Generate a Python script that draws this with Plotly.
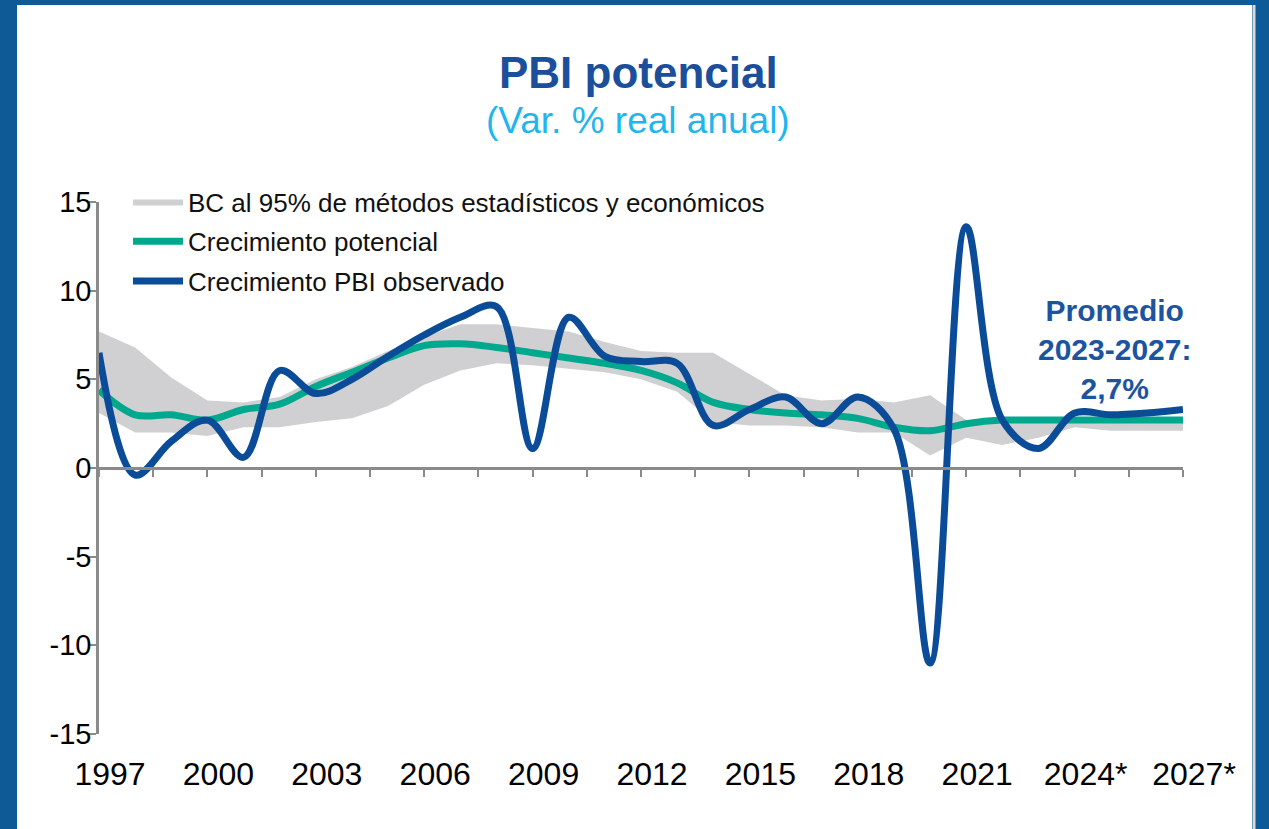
import plotly.graph_objects as go

# years on the x axis
years = [1997, 1998, 1999, 2000, 2001, 2002, 2003, 2004, 2005, 2006,
         2007, 2008, 2009, 2010, 2011, 2012, 2013, 2014, 2015, 2016,
         2017, 2018, 2019, 2020, 2021, 2022, 2023, 2024, 2025, 2026, 2027]

# crecimiento PBI observado (var. % real)
pbi_observado = [6.5, -0.4, 1.5, 2.7, 0.6, 5.5, 4.2, 5.0, 6.3, 7.5,
                 8.5, 9.1, 1.1, 8.5, 6.3, 6.0, 5.9, 2.4, 3.3, 4.0,
                 2.5, 4.0, 2.2, -11.0, 13.6, 2.7, 1.1, 3.1, 3.0, 3.1, 3.3]

# crecimiento potencial
potencial = [4.4, 3.0, 3.0, 2.7, 3.3, 3.6, 4.6, 5.4, 6.2, 6.9,
             7.0, 6.8, 6.5, 6.2, 5.9, 5.5, 4.8, 3.7, 3.3, 3.1,
             3.0, 2.8, 2.3, 2.1, 2.5, 2.7, 2.7, 2.7, 2.7, 2.7, 2.7]

# banda de confianza al 95%
banda_sup = [7.7, 6.8, 5.1, 3.8, 3.7, 4.0, 5.0, 5.7, 6.6, 7.4,
             8.1, 8.1, 7.9, 7.7, 7.1, 6.6, 6.5, 6.5, 5.3, 4.1,
             3.8, 3.9, 3.7, 4.1, 2.7, 2.8, 2.8, 2.8, 2.8, 2.8, 2.8]
banda_inf = [3.1, 2.0, 2.0, 1.8, 2.3, 2.3, 2.6, 2.8, 3.5, 4.7,
             5.5, 5.9, 5.8, 5.6, 5.4, 5.0, 4.3, 2.6, 2.4, 2.4,
             2.3, 2.0, 2.0, 0.7, 1.7, 1.3, 1.7, 2.3, 2.1, 2.1, 2.1]

# axis labels
xtick_vals = [1997, 2000, 2003, 2006, 2009, 2012, 2015, 2018, 2021, 2024, 2027]
xtick_text = ["1997", "2000", "2003", "2006", "2009", "2012", "2015", "2018", "2021", "2024*", "2027*"]
ytick_vals = [-15, -10, -5, 0, 5, 10, 15]
ytick_text = ["-15", "-10", "-5", "0", "5", "10", "15"]

FONT = "Liberation Sans, Arial, sans-serif"
AXIS_GRAY = "#8a8a8a"
SLIDE_BLUE = "#0e5a97"

fig = go.Figure()

fig.add_trace(go.Scatter(x=years, y=banda_inf, mode="lines", line=dict(width=0, color="#d0cfd1"),
                         showlegend=False, hoverinfo="skip"))
fig.add_trace(go.Scatter(x=years, y=banda_sup, mode="lines", line=dict(width=0, color="#d0cfd1"),
                         fill="tonexty", fillcolor="#d0cfd1", legendgroup="a",
                         name="BC al 95% de métodos estadísticos y económicos"))
fig.add_trace(go.Scatter(x=years, y=potencial, mode="lines", legendgroup="b",
                         line=dict(color="#00a88e", width=7, shape="spline"),
                         name="Crecimiento potencial"))
fig.add_trace(go.Scatter(x=years, y=pbi_observado, mode="lines", legendgroup="c",
                         line=dict(color="#0b4c98", width=7, shape="spline"),
                         name="Crecimiento PBI observado"))
# invisible copy so the label axis (x2) gets drawn
fig.add_trace(go.Scatter(x=years, y=potencial, xaxis="x2", mode="lines", opacity=0,
                         showlegend=False, hoverinfo="skip"))

W, H = 1269, 829
L, R, T, B = 99, 1269 - 1183, 202, 829 - 734
pw, ph = W - L - R, H - T - B

def px_x(p):
    return (p - L) / pw

def px_y(p):
    return (H - B - p) / ph

# white panel on the blue slide background
fig.add_shape(type="rect", xref="paper", yref="paper", layer="below",
              x0=px_x(17), x1=px_x(1252), y0=px_y(840), y1=px_y(5),
              fillcolor="white", line=dict(width=0))
fig.add_shape(type="line", xref="paper", yref="paper", layer="below",
              x0=px_x(1254), x1=px_x(1254), y0=px_y(840), y1=px_y(5),
              line=dict(color="#d9d9d9", width=3))

fig.add_annotation(text="<b>PBI potencial</b>", xref="paper", yref="paper",
                   x=px_x(638), y=px_y(72), showarrow=False,
                   xanchor="center", yanchor="middle",
                   font=dict(family=FONT, size=44, color="#1b4f9b"))
fig.add_annotation(text="(Var. % real anual)", xref="paper", yref="paper",
                   x=px_x(638), y=px_y(120), showarrow=False,
                   xanchor="center", yanchor="middle",
                   font=dict(family=FONT, size=37, color="#1fb5ee"))
fig.add_annotation(text="<b>Promedio<br>2023-2027:<br>2,7%</b>", xref="paper", yref="paper",
                   x=px_x(1114), y=px_y(349), showarrow=False,
                   xanchor="center", yanchor="middle",
                   font=dict(family=FONT, size=30, color="#1c54a0"))

fig.update_layout(
    width=W, height=H,
    margin=dict(l=L, r=R, t=T, b=B),
    paper_bgcolor=SLIDE_BLUE,
    plot_bgcolor="rgba(0,0,0,0)",
    font=dict(family=FONT, color="black"),
    showlegend=True,
    legend=dict(x=px_x(128), y=px_y(178), xanchor="left", yanchor="top",
                bgcolor="rgba(0,0,0,0)", font=dict(family=FONT, size=26, color="#111"),
                tracegroupgap=3, traceorder="grouped", itemwidth=50),
    xaxis=dict(range=[1997, 2027], anchor="free", position=0.5,
               showline=True, linecolor=AXIS_GRAY, linewidth=2.5,
               ticks="outside", ticklen=7, tickwidth=2, tickcolor=AXIS_GRAY,
               tick0=1997, dtick=1.5, showticklabels=False,
               showgrid=False, zeroline=False),
    xaxis2=dict(range=[1997, 2027], overlaying="x", anchor="y", side="bottom",
                showline=False, ticks="", tickmode="array",
                tickvals=xtick_vals, ticktext=xtick_text,
                ticklabelshift=11, ticklabelstandoff=18,
                tickfont=dict(family=FONT, size=32, color="black"),
                showgrid=False, zeroline=False),
    yaxis=dict(range=[-15, 15], showline=True, linecolor=AXIS_GRAY, linewidth=2.5,
               ticks="outside", ticklen=7, tickwidth=2, tickcolor=AXIS_GRAY,
               tickmode="array", tickvals=ytick_vals, ticktext=ytick_text,
               ticklabelstandoff=-8,
               tickfont=dict(family=FONT, size=29, color="black"),
               showgrid=False, zeroline=False),
)

# drop the page's default body margin so the figure sits at the window corner
fig.write_html("out.html", config={"displayModeBar": False}, post_script=(
    "document.body.style.margin='0';"
    "document.body.style.overflow='hidden';"
    "document.body.style.background='" + SLIDE_BLUE + "';"
))
